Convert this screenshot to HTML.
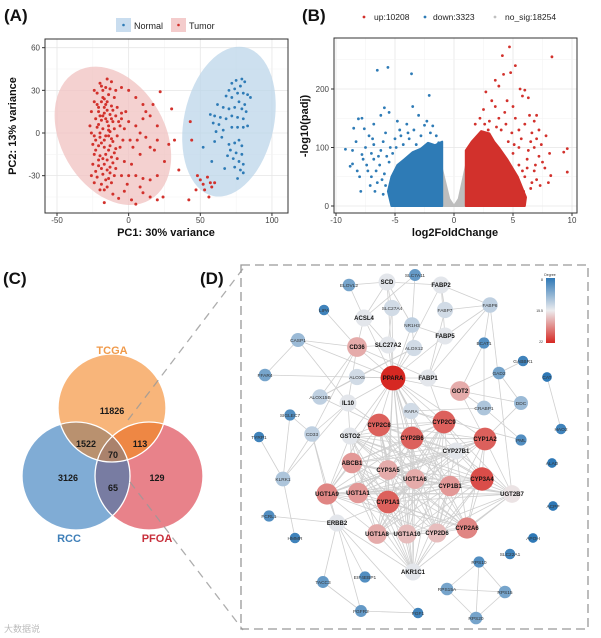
<!DOCTYPE html>
<html><head><meta charset="utf-8"><style>
html,body{margin:0;padding:0;background:#fff}
svg{display:block;font-family:"Liberation Sans","Noto Sans CJK SC",sans-serif}
</style></head><body>
<svg id="fig" width="601" height="638" viewBox="0 0 601 638" xmlns="http://www.w3.org/2000/svg">
<g id="pa"></g>
<g id="pb"></g>
<g id="pc"></g>
<g id="pd"></g>
</svg>
<script>
// ---------- Panel A data ----------
const tumorPoints=[[-20,35],[-15,38],[-12,36],[-18,30],[-22,28],[-14,27],[-10,25],[-24,22],[-19,22],[-16,20],[-12,19],[-8,18],[-26,15],[-21,15],[-17,14],[-13,13],[-9,12],[-5,14],[-23,10],[-19,9],[-15,8],[-11,8],[-27,5],[-22,4],[-18,3],[-14,2],[-10,3],[-6,5],[-24,-2],[-20,-3],[-16,-2],[-12,-4],[-8,-2],[-25,-8],[-21,-9],[-17,-10],[-13,-9],[-9,-11],[-24,-15],[-20,-16],[-16,-15],[-12,-17],[-8,-18],[-25,-22],[-21,-23],[-17,-22],[-13,-24],[-9,-25],[-26,-30],[-22,-31],[-18,-29],[-14,-32],[-10,-30],[-24,-35],[-19,-36],[-15,-38],[-17,-49],[-11,-43],[-7,-46],[-3,-41],[2,-47],[5,-50],[10,-42],[15,-45],[20,-47],[24,-45],[-5,-30],[0,-30],[5,-30],[10,-32],[15,-33],[20,-30],[-3,-20],[2,-22],[-5,10],[0,8],[5,5],[8,0],[12,-3],[15,-10],[18,-12],[20,5],[15,12],[10,20],[5,25],[0,30],[-5,32],[22,29],[30,17],[32,-5],[35,-26],[28,-8],[20,-5],[12,15],[-2,15],[3,-10],[8,-15],[-4,-5],[42,-47],[43,8],[44,-5],[48,-30],[50,-33],[52,-36],[55,-31],[57,-35],[58,-38],[47,-40],[53,-40],[60,-35],[56,-45],[-18,25],[-21,18],[-14,5],[-11,-6],[-19,-25],[-23,-12],[-16,32],[-13,-28],[-20,0],[-17,-5],[-15,16],[-12,10],[-18,12],[-22,20],[-10,-14],[-26,0],[-19,33],[-13,31],[-17,24],[-21,6],[-15,-19],[-11,-21],[-23,-27],[-16,-33],[-20,12],[-14,-12],[-17,18],[-15,22],[-13,1],[-19,-7],[-15,-26],[-21,-19],[-17,-40],[-12,-35],[-20,-40],[-23,-5],[-11,16],[-9,30],[-7,8],[-6,-10],[-3,3],[1,-5],[6,-5],[10,10],[17,20],[25,-20],[-1,-36],[8,-38],[-24,30],[-16,10],[-18,-18],[-14,-2]];
const normalPoints=[[72,35],[75,37],[79,38],[81,36],[78,33],[74,31],[70,30],[76,28],[80,28],[83,27],[85,25],[68,26],[72,25],[77,22],[81,20],[62,20],[66,18],[70,17],[74,18],[79,17],[82,15],[60,12],[64,11],[68,10],[72,12],[76,11],[80,10],[57,13],[59,7],[63,6],[61,1],[66,2],[72,4],[76,4],[80,4],[83,5],[65,-3],[60,-6],[70,-8],[74,-7],[77,-5],[79,-9],[52,-10],[71,-12],[75,-14],[79,-15],[73,-18],[77,-20],[80,-22],[74,-24],[78,-26],[67,-25],[80,-28],[76,-32],[58,-20],[69,-16]];
const pcaXTicks=[-50,0,50,100];
const pcaYTicks=[-30,0,30,60];
// ---------- Panel B data ----------
const downCloud=[[-1,0],[-1,110],[-1.6,104],[-2.2,108],[-2.8,98],[-3.5,92],[-4.2,80],[-4.8,70],[-5.3,50],[-5.6,25],[-5.3,0]];
const upCloud=[[1,0],[1,95],[1.5,110],[2.3,128],[3,124],[3.4,110],[3.8,100],[4.5,80],[5.4,50],[6.1,15],[6,0]];
const nsCloud=[[-1,0],[-1,62],[-0.4,12],[0,0],[0.4,12],[1,68],[1,0]];
const downPoints=[[-6.5,232],[-5.6,237],[-3.6,226],[-2.1,189],[-3.5,170],[-5.9,168],[-8.1,149],[-7.8,150],[-9.2,97],[-8.6,72],[-8.8,68],[-7.9,25],[-8.5,133],[-7.6,132],[-7.2,120],[-6.8,140],[-6.2,155],[-5.5,160],[-4.8,145],[-4,140],[-3,155],[-2.5,138],[-1.8,137],[-1.5,120],[-7.5,100],[-7,90],[-6.8,80],[-7.3,60],[-6.5,40],[-6,110],[-5.8,125],[-6.8,105],[-8,50],[-7.1,35],[-6,20],[-4.5,120],[-3.8,115],[-2.8,120],[-2,125],[-8.3,110],[-8.6,95],[-6.3,70],[-5.9,55],[-4.3,105],[-3.2,105],[-1.3,108],[-7.7,80],[-6.6,60],[-5.7,85],[-6.2,95],[-5.4,100],[-5,115],[-4.6,130],[-3.4,130],[-2.3,145],[-6.9,115],[-7.4,70],[-6.1,45],[-5.8,35],[-6.7,25],[-5.2,90],[-4.9,100],[-3.9,125],[-7,50],[-6.4,85],[-5.5,75],[-7.8,88],[-8.2,60]];
const upPoints=[[4.7,272],[4.1,257],[8.3,255],[5.2,240],[4.2,225],[4.8,228],[3.5,215],[3.8,205],[2.7,195],[5.6,200],[6,198],[5.8,188],[6.3,185],[3.2,180],[4.5,180],[5,170],[6.4,155],[7,155],[9.6,98],[9.3,92],[8.1,90],[9.6,58],[8.2,52],[8,40],[7.7,65],[7.5,75],[7.8,120],[7.2,130],[7,115],[6.8,100],[6.5,110],[6,140],[6.8,145],[5.5,130],[5.2,150],[4.3,160],[3.8,150],[3,145],[2.5,165],[2.2,150],[1.8,140],[5.5,100],[6.2,80],[6.8,60],[7,45],[6.5,30],[6,50],[5.5,70],[5,90],[4.6,110],[4,130],[7.2,85],[3.5,170],[2.9,130],[7.4,105],[6.6,125],[4.9,125],[5.7,115],[6.3,95],[6.9,70],[6.2,65],[5.8,60],[4.4,140],[3.6,135],[2.6,140],[5.1,105],[6.6,40],[7.3,35],[5.9,25]];
const volXTicks=[-10,-5,0,5,10];
const volYTicks=[0,100,200];
// ---------- Panel C data ----------
const vennCounts=[11826,3126,129,1522,113,65,70];
// ---------- Panel D data ----------
const nodeNames=["SLC7A11","ELOVL2","SCD","FABP2","LIPA","SLC27A4","FABP7","FABP6","ACSL4","NR1H3","CASP1","SLC27A2","ALOX12","FABP5","BCAT1","CD36","GABBR1","FFAR4","ALOX5","PPARA","FABP1","GOT2","GAD2","CAT","ALOX15B","IL10","RARA","CRABP1","DDC","SIGLEC7","CYP2C8","CYP2C9","CD33","GSTO2","CYP2B6","CYP1A2","PML","TYRP1","HAO2","CYP27B1","ABCB1","CYP3A5","ALAD","KLRK1","UGT1A6","CYP3A4","CYP1B1","UGT1A9","UGT1A1","UGT2B7","CYP1A1","ACPP","FCRL1","ERBB2","UGT1A8","UGT1A10","CYP2D6","CYP2A6","HMMR","APOH","SLC22A1","RPS10","AKR1C1","EIF4EBP1","TACC3","RPS15A","RPS15","FGFR2","FGF1","RPS20"];
const nodeDegree=[4,5,11,11,2,10,10,9,11,9,7,11,10,11,3,15,2,5,10,22,11,15,5,1,9,11,10,8,7,3,19,19,9,11,19,19,3,2,2,11,16,15,1,8,15,20,16,17,16,12,19,1,3,11,15,14,14,17,2,1,2,3,11,3,4,5,5,4,2,5];
const cliqueMembers=["CYP2C8","CYP2C9","CYP2B6","CYP1A2","CYP3A4","CYP1B1","CYP1A1","CYP3A5","ABCB1","UGT1A6","UGT1A1","UGT1A9","UGT1A8","UGT1A10","CYP2D6","CYP2A6","UGT2B7","AKR1C1","GSTO2","CYP27B1","PPARA"];
const extraEdges=[["PPARA","CD36"],["PPARA","ALOX5"],["PPARA","FABP1"],["PPARA","GOT2"],["PPARA","SLC27A2"],["PPARA","SLC27A4"],["PPARA","ACSL4"],["PPARA","SCD"],["PPARA","NR1H3"],["PPARA","FABP5"],["PPARA","ALOX12"],["PPARA","RARA"],["PPARA","IL10"],["PPARA","FFAR4"],["PPARA","CASP1"],["PPARA","FABP2"],["SCD","ELOVL2"],["SCD","ACSL4"],["SCD","SLC27A4"],["SCD","FABP2"],["SCD","NR1H3"],["SLC7A11","ACSL4"],["SLC7A11","NR1H3"],["ELOVL2","ACSL4"],["FABP2","FABP7"],["FABP2","FABP6"],["FABP2","FABP5"],["FABP7","FABP6"],["FABP6","FABP5"],["FABP6","FABP1"],["FABP6","BCAT1"],["FABP5","FABP1"],["FABP7","FABP1"],["LIPA","CD36"],["CASP1","IL10"],["CASP1","CD36"],["CASP1","FFAR4"],["CD36","ALOX15B"],["CD36","IL10"],["CD36","CD33"],["CD36","FABP1"],["CD36","SLC27A2"],["ALOX5","ALOX15B"],["ALOX5","ALOX12"],["ALOX12","ALOX15B"],["GOT2","GAD2"],["GOT2","BCAT1"],["GOT2","DDC"],["GOT2","CRABP1"],["GAD2","GABBR1"],["GAD2","DDC"],["CRABP1","RARA"],["CRABP1","BCAT1"],["PML","RARA"],["PML","CRABP1"],["CAT","HAO2"],["SIGLEC7","KLRK1"],["SIGLEC7","CD33"],["TYRP1","KLRK1"],["FCRL1","ERBB2"],["KLRK1","CD33"],["KLRK1","HMMR"],["CD33","ERBB2"],["IL10","CD33"],["IL10","KLRK1"],["ERBB2","UGT1A9"],["ERBB2","EIF4EBP1"],["ERBB2","TACC3"],["ERBB2","FGFR2"],["ERBB2","FGF1"],["ERBB2","CYP1A1"],["ERBB2","AKR1C1"],["FGFR2","FGF1"],["FGFR2","TACC3"],["RPS10","RPS15A"],["RPS10","RPS15"],["RPS10","RPS20"],["RPS15A","RPS15"],["RPS15A","RPS20"],["RPS15","RPS20"],["SLC27A2","SLC27A4"],["SLC27A2","ACSL4"],["NR1H3","ALOX12"],["NR1H3","FABP5"],["ACSL4","CD36"],["GSTO2","IL10"],["DDC","CYP1A2"],["GOT2","CYP1A2"],["IL10","CYP2C8"],["RARA","CYP2C9"],["RARA","CYP2B6"],["FABP1","CYP2C9"],["ALOX15B","CYP2C8"],["CD33","UGT1A9"],["FABP6","UGT2B7"]];
// layout (pixel positions, not data)
const nodePos={SLC7A11:[415,275],ELOVL2:[349,285],SCD:[387,282],FABP2:[441,285],LIPA:[324,310],SLC27A4:[392,308],FABP7:[445,310],FABP6:[490,305],ACSL4:[364,318],NR1H3:[412,325],CASP1:[298,340],SLC27A2:[388,345],ALOX12:[414,348],FABP5:[445,336],BCAT1:[484,343],CD36:[357,347],GABBR1:[523,361],FFAR4:[265,375],ALOX5:[357,377],PPARA:[393,378],FABP1:[428,378],GOT2:[460,391],GAD2:[499,373],CAT:[547,377],ALOX15B:[320,397],IL10:[348,403],RARA:[411,411],CRABP1:[484,408],DDC:[521,403],SIGLEC7:[290,415],CYP2C8:[379,425],CYP2C9:[444,422],CD33:[312,434],GSTO2:[350,436],CYP2B6:[412,438],CYP1A2:[485,439],PML:[521,440],TYRP1:[259,437],HAO2:[561,429],CYP27B1:[456,451],ABCB1:[352,463],CYP3A5:[388,470],ALAD:[552,463],KLRK1:[283,479],UGT1A6:[415,479],CYP3A4:[482,479],CYP1B1:[450,486],UGT1A9:[327,494],UGT1A1:[358,493],UGT2B7:[512,494],CYP1A1:[388,502],ACPP:[553,506],FCRL1:[269,516],ERBB2:[337,523],UGT1A8:[377,534],UGT1A10:[407,534],CYP2D6:[437,533],CYP2A6:[467,528],HMMR:[295,538],APOH:[533,538],SLC22A1:[510,554],RPS10:[479,562],AKR1C1:[413,572],EIF4EBP1:[365,577],TACC3:[323,582],RPS15A:[447,589],RPS15:[505,592],FGFR2:[361,611],FGF1:[418,613],RPS20:[476,618]};

const NS="http://www.w3.org/2000/svg";
function mk(parent,tag,attrs,text){const e=document.createElementNS(NS,tag);for(const k in attrs)e.setAttribute(k,attrs[k]);if(text!==undefined)e.textContent=text;parent.appendChild(e);return e;}
const pa=document.getElementById('pa'),pb=document.getElementById('pb'),pc=document.getElementById('pc'),pd=document.getElementById('pd');

// ===== Panel A =====
const xA=v=>57+(v+50)*1.433, yA=v=>133-v*1.422;
let t=mk(pa,'text',{x:4,y:21,'font-size':17,'font-weight':'bold',fill:'#111'},'(A)');


let lg=mk(pa,'g',{});


mk(lg,'rect',{x:116,y:18,width:15,height:14,fill:'#c9ddef'});
mk(lg,'circle',{cx:123.5,cy:25,r:1.3,fill:'#2e7bb6'});
mk(lg,'text',{x:134,y:29,'font-size':9,fill:'#222'},'Normal');
mk(lg,'rect',{x:171,y:18,width:15,height:14,fill:'#f4cccc'});
mk(lg,'circle',{cx:178.5,cy:25,r:1.3,fill:'#d2312c'});
mk(lg,'text',{x:189,y:29,'font-size':9,fill:'#222'},'Tumor');
mk(pa,'rect',{x:45,y:39,width:243,height:174,fill:'#fff'});
for(let i=0;i<pcaXTicks.length;i++){const v=pcaXTicks[i];mk(pa,'line',{x1:xA(v),x2:xA(v),y1:39,y2:213,stroke:'#e6e6e6','stroke-width':0.8});if(i<pcaXTicks.length-1){const m=xA(v+25);mk(pa,'line',{x1:m,x2:m,y1:39,y2:213,stroke:'#f2f2f2','stroke-width':0.5});}}
for(let i=0;i<pcaYTicks.length;i++){const v=pcaYTicks[i];mk(pa,'line',{x1:45,x2:288,y1:yA(v),y2:yA(v),stroke:'#e6e6e6','stroke-width':0.8});const m=yA(v-15);mk(pa,'line',{x1:45,x2:288,y1:m,y2:m,stroke:'#f2f2f2','stroke-width':0.5});}
let el=mk(pa,'ellipse',{cx:xA(-11),cy:yA(-2),rx:52,ry:74,transform:`rotate(-30 ${xA(-11)} ${yA(-2)})`,fill:'#f0c2c0','fill-opacity':0.75});


el=mk(pa,'ellipse',{cx:xA(70),cy:yA(8),rx:45,ry:76,transform:`rotate(12 ${xA(70)} ${yA(8)})`,fill:'#bcd5ea','fill-opacity':0.75});


for(const p of tumorPoints){const c=mk(pa,'circle',{cx:xA(p[0]),cy:yA(p[1]),r:1.5,fill:'#d2312c'});

}
for(const p of normalPoints){const c=mk(pa,'circle',{cx:xA(p[0]),cy:yA(p[1]),r:1.4,fill:'#2e7bb6'});

}
mk(pa,'rect',{x:45,y:39,width:243,height:174,fill:'none',stroke:'#333','stroke-width':1});
for(const v of pcaXTicks){mk(pa,'line',{x1:xA(v),x2:xA(v),y1:213,y2:216,stroke:'#333'});const tt=mk(pa,'text',{x:xA(v),y:223,'font-size':8,fill:'#444','text-anchor':'middle'},v);

}
for(const v of pcaYTicks){mk(pa,'line',{x1:42,x2:45,y1:yA(v),y2:yA(v),stroke:'#333'});const tt=mk(pa,'text',{x:40,y:yA(v)+3,'font-size':8,fill:'#444','text-anchor':'end'},v);

}
t=mk(pa,'text',{x:166,y:236,'font-size':11,'font-weight':'bold','text-anchor':'middle',fill:'#111'},'PC1: 30% variance');


t=mk(pa,'text',{x:0,y:0,'font-size':11,'font-weight':'bold','text-anchor':'middle',fill:'#111',transform:'translate(16,126) rotate(-90)'},'PC2: 13% variance');



// ===== Panel B =====
const xB=v=>454+v*11.8, yB=v=>206-v*0.585;
t=mk(pb,'text',{x:302,y:21,'font-size':17,'font-weight':'bold',fill:'#111'},'(B)');


lg=mk(pb,'g',{});


mk(lg,'circle',{cx:364,cy:17,r:1.4,fill:'#d2312c'});mk(lg,'text',{x:374,y:20,'font-size':8.5,fill:'#222'},'up:10208');
mk(lg,'circle',{cx:425,cy:17,r:1.4,fill:'#2e7bb6'});mk(lg,'text',{x:433,y:20,'font-size':8.5,fill:'#222'},'down:3323');
mk(lg,'circle',{cx:495,cy:17,r:1.4,fill:'#c0c0c0'});mk(lg,'text',{x:505,y:20,'font-size':8.5,fill:'#222'},'no_sig:18254');
for(let i=0;i<volXTicks.length;i++){const v=volXTicks[i];mk(pb,'line',{x1:xB(v),x2:xB(v),y1:38,y2:213,stroke:'#e6e6e6','stroke-width':0.8});if(i<volXTicks.length-1){const m=xB(v+2.5);mk(pb,'line',{x1:m,x2:m,y1:38,y2:213,stroke:'#f2f2f2','stroke-width':0.5});}}
for(const v of [0,100,200]){mk(pb,'line',{x1:334,x2:577,y1:yB(v),y2:yB(v),stroke:'#e6e6e6','stroke-width':0.8});mk(pb,'line',{x1:334,x2:577,y1:yB(v+50),y2:yB(v+50),stroke:'#f2f2f2','stroke-width':0.5});}
function cloud(arr,col,name){const pts=arr.map(p=>xB(p[0])+','+yB(p[1])).join(' ');const g=mk(pb,'polygon',{points:pts,fill:col,stroke:col,'stroke-width':2,'stroke-linejoin':'round'});

}
cloud(nsCloud,'#bdbdbd','nosig-cloud');cloud(downCloud,'#2e7bb6','down-cloud');cloud(upCloud,'#d2312c','up-cloud');
for(const p of downPoints){const c=mk(pb,'circle',{cx:xB(p[0]),cy:yB(p[1]),r:1.4,fill:'#2e7bb6'});

}
for(const p of upPoints){const c=mk(pb,'circle',{cx:xB(p[0]),cy:yB(p[1]),r:1.4,fill:'#d2312c'});

}
mk(pb,'rect',{x:334,y:38,width:243,height:175,fill:'none',stroke:'#333','stroke-width':1});
for(const v of volXTicks){mk(pb,'line',{x1:xB(v),x2:xB(v),y1:213,y2:216,stroke:'#333'});const tt=mk(pb,'text',{x:xB(v),y:223,'font-size':8,fill:'#444','text-anchor':'middle'},v);

}
for(const v of volYTicks){mk(pb,'line',{x1:331,x2:334,y1:yB(v),y2:yB(v),stroke:'#333'});const tt=mk(pb,'text',{x:329,y:yB(v)+3,'font-size':8,fill:'#444','text-anchor':'end'},v);

}
t=mk(pb,'text',{x:455,y:236,'font-size':11,'font-weight':'bold','text-anchor':'middle',fill:'#111'},'log2FoldChange');


t=mk(pb,'text',{x:0,y:0,'font-size':11,'font-weight':'bold','text-anchor':'middle',fill:'#111',transform:'translate(308,126) rotate(-90)'},'-log10(padj)');



// ===== Panel C =====
t=mk(pc,'text',{x:3,y:284,'font-size':17,'font-weight':'bold',fill:'#111'},'(C)');


const CT=[112,408],CR=[76,476],CP=[149,476],RV=54;
const defsC=mk(pc,'defs',{});
const cpT=mk(defsC,'clipPath',{id:'clipT'});mk(cpT,'circle',{cx:CT[0],cy:CT[1],r:RV});
const cpR=mk(defsC,'clipPath',{id:'clipR'});mk(cpR,'circle',{cx:CR[0],cy:CR[1],r:RV});
function vc(parent,c,fill,name){const e=mk(parent,'circle',{cx:c[0],cy:c[1],r:RV,fill:fill});

return e;}
vc(pc,CT,'#f8b57a','tcga-circle');
vc(pc,CR,'#80acd5','rcc-circle');
vc(pc,CP,'#e8828a','pfoa-circle');
let gT=mk(pc,'g',{'clip-path':'url(#clipT)'});
vc(gT,CR,'#b9916f','tcga-rcc-overlap');
vc(gT,CP,'#ee8744','tcga-pfoa-overlap');
let gR=mk(pc,'g',{'clip-path':'url(#clipR)'});
vc(gR,CP,'#787ca2','rcc-pfoa-overlap');
let gTR=mk(gR,'g',{'clip-path':'url(#clipT)'});
vc(gTR,CP,'#aa826c','triple-overlap');
for(const c of [CT,CR,CP]){mk(pc,'circle',{cx:c[0],cy:c[1],r:RV,fill:'none',stroke:'#fff','stroke-width':1.3});}
mk(pc,'line',{x1:128,y1:420,x2:245,y2:266,stroke:'#999','stroke-opacity':0.8,'stroke-width':1.3,'stroke-dasharray':'8,6'});
mk(pc,'line',{x1:130,y1:482,x2:243,y2:630,stroke:'#999','stroke-opacity':0.8,'stroke-width':1.3,'stroke-dasharray':'8,6'});
const vennPos=[[112,414],[68,481],[157,481],[86,447],[140,447],[113,491],[113,458]];
for(let i=0;i<vennCounts.length;i++){const tt=mk(pc,'text',{x:vennPos[i][0],y:vennPos[i][1],'font-size':9,'font-weight':'bold','text-anchor':'middle',fill:'#1a1a1a'},vennCounts[i]);

}
t=mk(pc,'text',{x:112,y:354,'font-size':11,'font-weight':'bold','text-anchor':'middle',fill:'#f09a4a'},'TCGA');


t=mk(pc,'text',{x:69,y:542,'font-size':11,'font-weight':'bold','text-anchor':'middle',fill:'#3f7fb8'},'RCC');


t=mk(pc,'text',{x:157,y:542,'font-size':11,'font-weight':'bold','text-anchor':'middle',fill:'#c8303c'},'PFOA');


t=mk(pc,'text',{x:4,y:632,'font-size':9,fill:'#bbb'},'大数据说');



// ===== Panel D =====
t=mk(pd,'text',{x:200,y:284,'font-size':17,'font-weight':'bold',fill:'#111'},'(D)');


let box=mk(pd,'rect',{x:241,y:265,width:347,height:364,fill:'none',stroke:'#999','stroke-width':1.3,'stroke-dasharray':'9,5'});


const degMin=1,degMax=22;
function degColor(d){const u=(d-degMin)/(degMax-degMin);const b=[46,120,182],w=[236,236,238],r=[214,40,34];let a,c,s;if(u<0.5){a=b;c=w;s=u/0.5;}else{a=w;c=r;s=(u-0.5)/0.5;}return `rgb(${a.map((x,i)=>Math.round(x+(c[i]-x)*s)).join(',')})`;}
const edges=[];
for(let i=0;i<cliqueMembers.length;i++)for(let j=i+1;j<cliqueMembers.length;j++)if((i*7+j*3)%4!==0)edges.push([cliqueMembers[i],cliqueMembers[j]]);
for(const e of extraEdges)edges.push(e);
const eg=mk(pd,'g',{});


for(const e of edges){const a=nodePos[e[0]],b=nodePos[e[1]];if(!a||!b)continue;mk(eg,'line',{x1:a[0],y1:a[1],x2:b[0],y2:b[1],stroke:'#cfcfcf','stroke-width':0.8});}
for(let i=0;i<nodeNames.length;i++){const n=nodeNames[i],d=nodeDegree[i],p=nodePos[n];const r=4.5+d*0.36;
const c=mk(pd,'circle',{cx:p[0],cy:p[1],r:r,fill:degColor(d)});


const bold=d>=11;
const tt=mk(pd,'text',{x:p[0],y:p[1]+2,'font-size':bold?6:4.8,'font-weight':bold?'bold':'normal','text-anchor':'middle',fill:bold?'#111':'#333'},n);

}
// color legend
const defs=mk(pd,'defs',{});const gr=mk(defs,'linearGradient',{id:'dg',x1:0,y1:0,x2:0,y2:1});
mk(gr,'stop',{offset:'0',  'stop-color':degColor(1)});mk(gr,'stop',{offset:'0.5','stop-color':degColor(11.5)});mk(gr,'stop',{offset:'1','stop-color':degColor(22)});
const leg=mk(pd,'g',{});


mk(leg,'text',{x:550,y:276,'font-size':3.5,fill:'#333','text-anchor':'middle'},'Degree');
mk(leg,'rect',{x:546,y:278,width:9,height:65,fill:'url(#dg)'});
mk(leg,'text',{x:543,y:281,'font-size':3.5,fill:'#333','text-anchor':'end'},'8');
mk(leg,'text',{x:543,y:312,'font-size':3.5,fill:'#333','text-anchor':'end'},'15.5');
mk(leg,'text',{x:543,y:343,'font-size':3.5,fill:'#333','text-anchor':'end'},'22');
</script>
</body></html>
